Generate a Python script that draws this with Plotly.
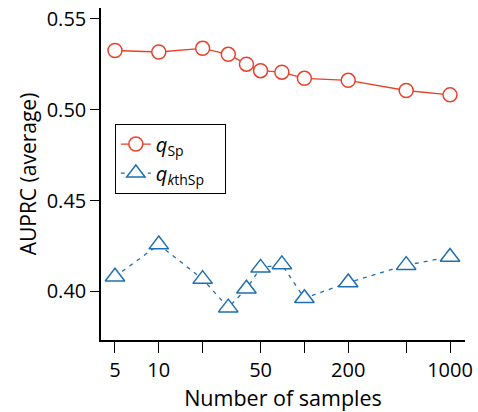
import plotly.graph_objects as go

samples = [5, 10, 20, 30, 40, 50, 70, 100, 200, 500, 1000]
q_sp = [0.5326, 0.5318, 0.5338, 0.5305, 0.5251, 0.5215, 0.5207, 0.5173, 0.5162, 0.5106, 0.5082]
q_kthsp = [0.4081, 0.4258, 0.4068, 0.3911, 0.4015, 0.4130, 0.4149, 0.3963, 0.4049, 0.4145, 0.4190]

x_tickvals = [5, 10, 20, 50, 100, 200, 500, 1000]
x_ticktext = ["5", "10", "", "50", "", "200", "", "1000"]
y_tickvals = [0.40, 0.45, 0.50, 0.55]

red = "#e8402a"
blue = "#1f6fb0"
font = "Open Sans"

fig = go.Figure()
fig.add_trace(go.Scatter(
    x=samples, y=q_sp, mode="lines+markers",
    name="<i>q</i><sub>Sp</sub>&nbsp;&nbsp;&nbsp;&nbsp;",
    line=dict(color=red, width=1.3),
    marker=dict(symbol="circle", size=14, color="white", line=dict(color=red, width=1.5)),
))
fig.add_trace(go.Scatter(
    x=samples, y=q_kthsp, mode="lines+markers",
    name="<i>q</i><sub><i>k</i>thSp</sub>&nbsp;&nbsp;&nbsp;",
    line=dict(color=blue, width=1.3, dash="4px,5px"),
    marker=dict(symbol="triangle-up", size=17, color="white", line=dict(color=blue, width=1.5)),
))

fig.update_layout(
    width=478, height=412,
    margin=dict(l=101, r=12, t=5, b=72),
    paper_bgcolor="white", plot_bgcolor="white",
    font=dict(family=font, size=20, color="black"),
    showlegend=True,
    legend=dict(
        x=0.038, y=0.652, xanchor="left", yanchor="top",
        bordercolor="black", borderwidth=1, bgcolor="white",
        font=dict(size=20), tracegroupgap=0, itemwidth=30,
    ),
    xaxis=dict(
        type="log", range=[0.603, 3.103],
        tickvals=x_tickvals, ticktext=x_ticktext,
        ticks="outside", ticklen=11, tickwidth=1.2, tickcolor="black",
        showline=True, linecolor="black", linewidth=1.5,
        showgrid=False, zeroline=False,
        title=dict(text="Number of samples", font=dict(size=21.5), standoff=6),
        tickfont=dict(size=20),
    ),
    yaxis=dict(
        range=[0.3733, 0.556],
        tickvals=y_tickvals, tickformat=".2f",
        ticks="outside", ticklen=9, tickwidth=1.2, tickcolor="black",
        showline=True, linecolor="black", linewidth=1.5,
        showgrid=False, zeroline=False,
        title=dict(text="AUPRC (average)", font=dict(size=21), standoff=4),
        tickfont=dict(size=20),
    ),
)

fig.write_html("out.html", config={"displayModeBar": False},
               post_script="document.body.style.margin='0';")
